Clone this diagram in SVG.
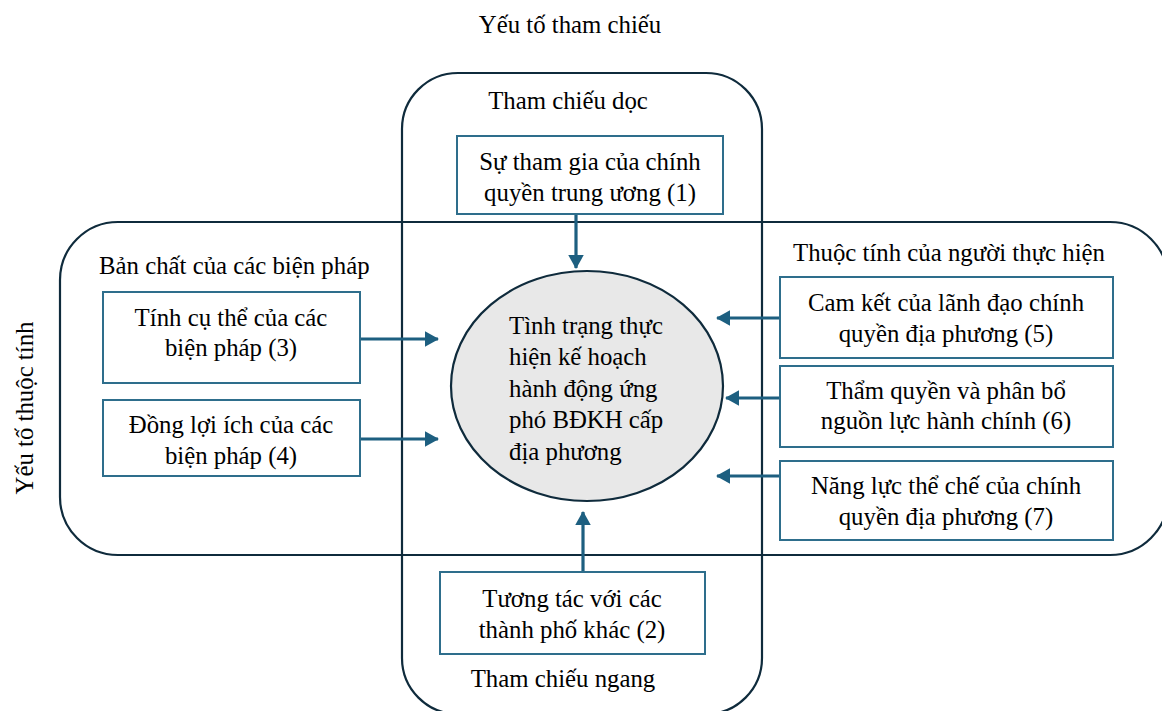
<svg xmlns="http://www.w3.org/2000/svg" width="1162" height="711" viewBox="0 0 1162 711">
<style>
text{font-family:"Liberation Serif","Times New Roman",serif;font-size:24.8px;fill:#000}
.c{text-anchor:middle}
.frame{fill:none;stroke:#0f2b3c;stroke-width:2.2}
.box{fill:#fff;stroke:#2e6e8c;stroke-width:2}
.arr{stroke:#1d5f80;stroke-width:3.2;fill:none;marker-end:url(#ah)}
</style>
<defs>
<marker id="ah" markerWidth="5" markerHeight="5" refX="4.2" refY="2.5" orient="auto" markerUnits="strokeWidth">
<path d="M0,0 L4.5,2.5 L0,5 Z" fill="#1d5f80"/>
</marker>
</defs>
<rect width="1162" height="711" fill="#fff"/>
<text class="c" x="570" y="33">Yếu tố tham chiếu</text>
<text class="c" transform="translate(33,408) rotate(-90)">Yếu tố thuộc tính</text>
<g id="frames">
<rect id="vertical-frame" class="frame" x="402" y="73" width="360" height="641" rx="56"/>
<rect id="horizontal-frame" class="frame" x="60" y="222" width="1108" height="333" rx="58"/>
</g>
<text class="c" x="568" y="109">Tham chiếu dọc</text>
<text x="99" y="274">Bản chất của các biện pháp</text>
<text x="793" y="261">Thuộc tính của người thực hiện</text>
<text class="c" x="563" y="687">Tham chiếu ngang</text>
<g id="connectors">
<line class="arr" x1="576" y1="214" x2="576" y2="268"/>
<line class="arr" x1="583" y1="572" x2="583" y2="512"/>
<line class="arr" x1="360" y1="339" x2="438" y2="339"/>
<line class="arr" x1="360" y1="439" x2="438" y2="439"/>
<line class="arr" x1="780" y1="318" x2="717" y2="318"/>
<line class="arr" x1="788" y1="398" x2="726" y2="398"/>
<line class="arr" x1="780" y1="476" x2="717" y2="476"/>
</g>
<g id="center">
<ellipse cx="587" cy="386" rx="136" ry="115" fill="#e8e8e8" stroke="#0f2b3c" stroke-width="2.2"/>
<text x="509" y="334">Tình trạng thực</text>
<text x="509" y="365">hiện kế hoạch</text>
<text x="509" y="396.5">hành động ứng</text>
<text x="509" y="428">phó BĐKH cấp</text>
<text x="509" y="459.5">địa phương</text>
</g>
<g id="n1">
<rect class="box" x="457" y="136" width="266" height="78"/>
<text class="c" x="590" y="170">Sự tham gia của chính</text>
<text class="c" x="590" y="201">quyền trung ương (1)</text>
</g>
<g id="n2">
<rect class="box" x="440" y="572" width="265" height="82"/>
<text class="c" x="572" y="607">Tương tác với các</text>
<text class="c" x="572" y="638">thành phố khác (2)</text>
</g>
<g id="n3">
<rect class="box" x="103" y="292" width="257" height="91"/>
<text class="c" x="231" y="326">Tính cụ thể của các</text>
<text class="c" x="231" y="356">biện pháp (3)</text>
</g>
<g id="n4">
<rect class="box" x="103" y="400" width="257" height="76"/>
<text class="c" x="231" y="433">Đồng lợi ích của các</text>
<text class="c" x="231" y="464">biện pháp (4)</text>
</g>
<g id="n5">
<rect class="box" x="780" y="277" width="333" height="81"/>
<text class="c" x="946" y="311">Cam kết của lãnh đạo chính</text>
<text class="c" x="946" y="342">quyền địa phương (5)</text>
</g>
<g id="n6">
<rect class="box" x="780" y="366" width="333" height="81"/>
<text class="c" x="946" y="399">Thẩm quyền và phân bổ</text>
<text class="c" x="946" y="429">nguồn lực hành chính (6)</text>
</g>
<g id="n7">
<rect class="box" x="780" y="461" width="333" height="79"/>
<text class="c" x="946" y="494">Năng lực thể chế của chính</text>
<text class="c" x="946" y="525">quyền địa phương (7)</text>
</g>
</svg>
